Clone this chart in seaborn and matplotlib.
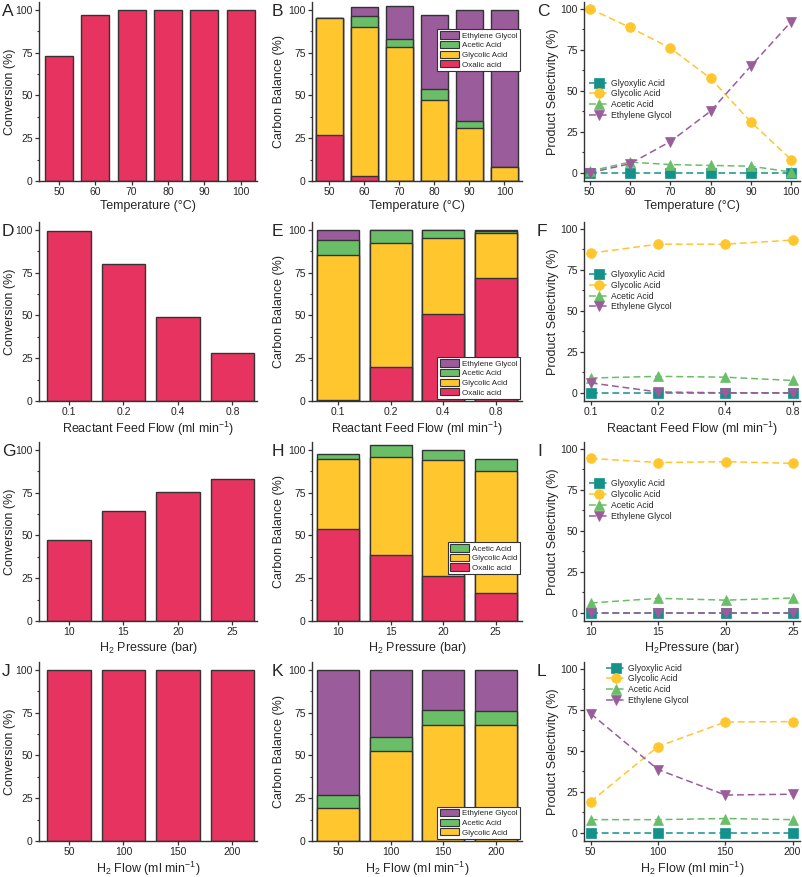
import matplotlib.pyplot as plt
import seaborn as sns
from matplotlib.patches import Patch
from matplotlib.ticker import MultipleLocator

sns.set_style('ticks')
plt.rcParams['font.family'] = ['Liberation Sans', 'DejaVu Sans']
plt.rcParams['mathtext.fontset'] = 'custom'
plt.rcParams['mathtext.rm'] = 'Liberation Sans'
plt.rcParams['mathtext.it'] = 'Liberation Sans:italic'
plt.rcParams['mathtext.default'] = 'regular'
plt.rcParams['lines.dashed_pattern'] = [4.5, 2.5]

# ---- data ----
# temperature series
temp = ['50', '60', '70', '80', '90', '100']
temp_num = [50, 60, 70, 80, 90, 100]
conv_temp = [73, 97, 100, 100, 100, 100]
cb_temp_oxalic = [27, 3, 0, 0, 0, 0]
cb_temp_glycolic = [68, 87, 78, 47.5, 31, 8]
cb_temp_acetic = [0, 6.5, 5, 6, 4, 0]
cb_temp_eg = [0, 5, 19, 43.5, 65, 92]
sel_temp_glyoxylic = [0, 0, 0, 0, 0, 0]
sel_temp_glycolic = [100, 88.5, 76, 57.5, 31, 8]
sel_temp_acetic = [1, 6.5, 5, 4.5, 4, 0.5]
sel_temp_eg = [0, 5.5, 19, 37.5, 65, 92]

# reactant feed flow series
flow = ['0.1', '0.2', '0.4', '0.8']
conv_flow = [99.5, 80, 49, 28]
cb_flow_oxalic = [0.5, 20, 51, 72]
cb_flow_glycolic = [84.5, 72, 44, 26]
cb_flow_acetic = [9, 8, 5, 1.5]
cb_flow_eg = [6, 0, 0, 0.5]
sel_flow_glyoxylic = [0, 0, 0, 0]
sel_flow_glycolic = [85, 90.5, 90.5, 93]
sel_flow_acetic = [9, 10, 9.5, 7.5]
sel_flow_eg = [6, 0.5, 0, 0]

# H2 pressure series
pres = ['10', '15', '20', '25']
pres_num = [10, 15, 20, 25]
conv_pres = [47, 64, 75.5, 83]
cb_pres_oxalic = [54, 38.5, 26, 16.5]
cb_pres_glycolic = [40.5, 57.5, 68, 71]
cb_pres_acetic = [3, 6.5, 6, 7]
sel_pres_glyoxylic = [0, 0, 0, 0]
sel_pres_glycolic = [94, 91.5, 92, 91]
sel_pres_acetic = [6, 8.8, 7.7, 9]
sel_pres_eg = [0, 0, 0, 0]

# H2 flow series
h2 = ['50', '100', '150', '200']
h2_num = [50, 100, 150, 200]
conv_h2 = [100, 100, 100, 100]
cb_h2_glycolic = [19, 52.5, 67.5, 68]
cb_h2_acetic = [8, 8.5, 9, 8]
cb_h2_eg = [73, 39, 23.5, 24]
sel_h2_glyoxylic = [0, 0, 0, 0]
sel_h2_glycolic = [19, 52.5, 67.5, 67.7]
sel_h2_acetic = [8, 8, 8.7, 8]
sel_h2_eg = [72.5, 38.5, 23, 23.5]

# colours
RED = '#E6335F'
YEL = '#FFC62E'
GRN = '#6ABE68'
PUR = '#9A5C9A'
TEAL = '#14918A'
EDGE = '#333333'

TICK = 7.5
LAB = 9

fig = plt.figure(figsize=(8.03, 8.77), dpi=100)
W, H = 803.0, 877.0


def make_ax(left, right, row):
    top = 2 + 220 * row
    bottom = 181 + 220 * row
    return fig.add_axes([left / W, 1 - bottom / H, (right - left) / W, (bottom - top) / H])


def style(ax, ylab_x):
    sns.despine(ax=ax)
    for s in ['left', 'bottom']:
        ax.spines[s].set_color(EDGE)
        ax.spines[s].set_linewidth(1)
    ax.tick_params(axis='both', labelsize=TICK, length=3, width=0.9, color=EDGE, pad=1.5)
    ax.tick_params(which='minor', length=1.8, width=0.8, color=EDGE)
    ax.yaxis.set_major_locator(MultipleLocator(25))
    ax.yaxis.set_minor_locator(MultipleLocator(12.5))
    ax.yaxis.set_label_coords(ylab_x, 0.5)
    ax.yaxis.label.set_verticalalignment('center')
    ax.xaxis.set_label_coords(0.5, -0.105)
    ax.xaxis.label.set_verticalalignment('top')


def conv_panel(ax, cats, vals, xlabel, width):
    sns.barplot(x=cats, y=vals, color=RED, edgecolor=EDGE, linewidth=1,
                width=width, saturation=1, errorbar=None, ax=ax)
    ax.set_ylim(0, 104.5)
    ax.set_xlim(-0.55, len(cats) - 0.55)
    ax.set_ylabel('Conversion (%)', fontsize=LAB)
    ax.set_xlabel(xlabel, fontsize=LAB)
    style(ax, -0.133)


def stack_panel(ax, cats, layers, xlabel, width, leg_kw):
    # layers bottom -> top ; draw cumulative tops, largest first
    tops = []
    run = [0] * len(cats)
    for name, vals, col in layers:
        run = [a + b for a, b in zip(run, vals)]
        tops.append((name, list(run), col))
    for name, top, col in reversed(tops):
        sns.barplot(x=cats, y=top, color=col, edgecolor=EDGE, linewidth=1,
                    width=width, saturation=1, errorbar=None, ax=ax)
    ax.set_ylim(0, 104.5)
    ax.set_xlim(-0.5, len(cats) - 0.5)
    ax.set_ylabel('Carbon Balance (%)', fontsize=LAB)
    ax.set_xlabel(xlabel, fontsize=LAB)
    style(ax, -0.155)
    handles = [Patch(facecolor=col, edgecolor=EDGE, linewidth=0.8, label=name)
               for name, vals, col in reversed(layers)]
    leg = ax.legend(handles=handles, fontsize=5.8, frameon=True, fancybox=False,
                    edgecolor=EDGE, framealpha=1, handlelength=2.4, handleheight=1.0,
                    labelspacing=0.15, handletextpad=0.4, borderpad=0.25,
                    borderaxespad=0.3, **leg_kw)
    leg.get_frame().set_linewidth(0.8)


def sel_panel(ax, xs, series, xlabel, xlim, xticks, xticklabels, leg_kw):
    for name, vals, col, mk in series:
        sns.lineplot(x=xs, y=vals, color=col, marker=mk, markersize=7,
                     markeredgecolor=col, markeredgewidth=0.5, linestyle='--',
                     linewidth=1.1, label=name, ax=ax)
    ax.set_ylim(-5, 104)
    ax.set_xlim(*xlim)
    ax.set_xticks(xticks)
    ax.set_xticklabels(xticklabels)
    ax.set_ylabel('Product Selectivity (%)', fontsize=LAB)
    ax.set_xlabel(xlabel, fontsize=LAB)
    style(ax, -0.145)
    ax.legend(fontsize=6.2, frameon=False, handlelength=2.2, labelspacing=0.2,
              handletextpad=0.3, borderaxespad=0.2, **leg_kw)


def letter(x, row, s):
    fig.text(x / W, 1 - (11 + 220 * row) / H, s, fontsize=12.5, ha='left', va='center')


C1 = (39, 257)
C2 = (312, 522)
C3 = (584, 800)

def sel_series(gx, gc, ac, eg):
    return [('Glyoxylic Acid', gx, TEAL, 's'),
            ('Glycolic Acid', gc, YEL, 'o'),
            ('Acetic Acid', ac, GRN, '^'),
            ('Ethylene Glycol', eg, PUR, 'v')]


# row 1: temperature
ax = make_ax(*C1, 0)
conv_panel(ax, temp, conv_temp, 'Temperature (°C)', 0.77)
ax = make_ax(*C2, 0)
stack_panel(ax, temp, [('Oxalic acid', cb_temp_oxalic, RED),
                       ('Glycolic Acid', cb_temp_glycolic, YEL),
                       ('Acetic Acid', cb_temp_acetic, GRN),
                       ('Ethylene Glycol', cb_temp_eg, PUR)],
            'Temperature (°C)', 0.78,
            dict(loc='upper right', bbox_to_anchor=(1.0, 0.86)))
ax = make_ax(*C3, 0)
sel_panel(ax, temp_num, sel_series(sel_temp_glyoxylic, sel_temp_glycolic,
                                   sel_temp_acetic, sel_temp_eg),
          'Temperature (°C)', (48.6, 102.2), temp_num, temp,
          dict(loc='upper left', bbox_to_anchor=(0.0, 0.6)))

# row 2: reactant feed flow
ax = make_ax(*C1, 1)
conv_panel(ax, flow, conv_flow, 'Reactant Feed Flow (ml min$^{-1}$)', 0.8)
ax = make_ax(*C2, 1)
stack_panel(ax, flow, [('Oxalic acid', cb_flow_oxalic, RED),
                       ('Glycolic Acid', cb_flow_glycolic, YEL),
                       ('Acetic Acid', cb_flow_acetic, GRN),
                       ('Ethylene Glycol', cb_flow_eg, PUR)],
            'Reactant Feed Flow (ml min$^{-1}$)', 0.8,
            dict(loc='lower right'))
ax = make_ax(*C3, 1)
sel_panel(ax, list(range(len(flow))), sel_series(sel_flow_glyoxylic, sel_flow_glycolic,
                                                 sel_flow_acetic, sel_flow_eg),
          'Reactant Feed Flow (ml min$^{-1}$)', (-0.1, 3.11), list(range(len(flow))), flow,
          dict(loc='upper left', bbox_to_anchor=(0.0, 0.76)))

# row 3: H2 pressure
ax = make_ax(*C1, 2)
conv_panel(ax, pres, conv_pres, 'H$_2$ Pressure (bar)', 0.8)
ax = make_ax(*C2, 2)
stack_panel(ax, pres, [('Oxalic acid', cb_pres_oxalic, RED),
                       ('Glycolic Acid', cb_pres_glycolic, YEL),
                       ('Acetic Acid', cb_pres_acetic, GRN)],
            'H$_2$ Pressure (bar)', 0.8,
            dict(loc='lower right', bbox_to_anchor=(1.0, 0.25)))
ax = make_ax(*C3, 2)
sel_panel(ax, pres_num, sel_series(sel_pres_glyoxylic, sel_pres_glycolic,
                                   sel_pres_acetic, sel_pres_eg),
          'H$_2$Pressure (bar)', (9.5, 25.5), pres_num, pres,
          dict(loc='upper left', bbox_to_anchor=(0.0, 0.82)))

# row 4: H2 flow
ax = make_ax(*C1, 3)
conv_panel(ax, h2, conv_h2, 'H$_2$ Flow (ml min$^{-1}$)', 0.8)
ax = make_ax(*C2, 3)
stack_panel(ax, h2, [('Glycolic Acid', cb_h2_glycolic, YEL),
                     ('Acetic Acid', cb_h2_acetic, GRN),
                     ('Ethylene Glycol', cb_h2_eg, PUR)],
            'H$_2$ Flow (ml min$^{-1}$)', 0.8,
            dict(loc='lower right'))
ax = make_ax(*C3, 3)
sel_panel(ax, h2_num, sel_series(sel_h2_glyoxylic, sel_h2_glycolic,
                                 sel_h2_acetic, sel_h2_eg),
          'H$_2$ Flow (ml min$^{-1}$)', (45, 205.5), h2_num, h2,
          dict(loc='upper left', bbox_to_anchor=(0.08, 1.02)))

for row, (a, b, c) in enumerate([('A', 'B', 'C'), ('D', 'E', 'F'),
                                 ('G', 'H', 'I'), ('J', 'K', 'L')]):
    letter(2, row, a)
    letter(272, row, b)
    letter(537, row, c)

fig.savefig('out.png', dpi=100)
